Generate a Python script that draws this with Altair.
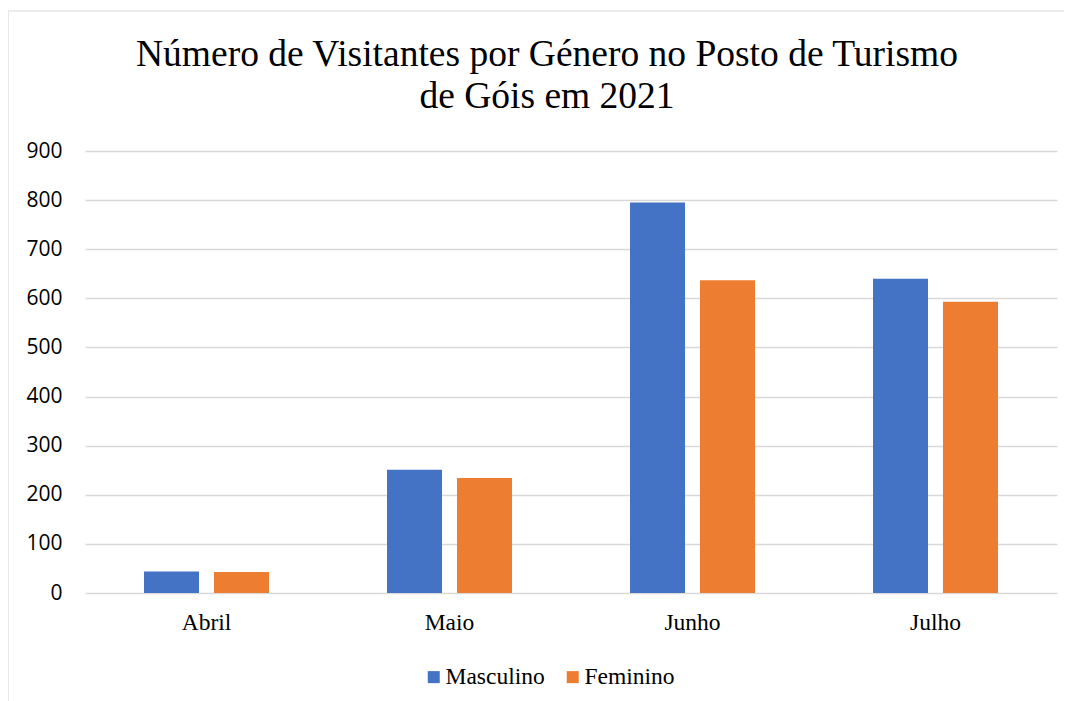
import altair as alt
import pandas as pd

months = ["Abril", "Maio", "Junho", "Julho"]
series = ["Masculino", "Feminino"]
masculino = [44, 251, 795, 640]
feminino = [43, 234, 637, 593]
colors = ["#4472C4", "#ED7D31"]

rows = []
for i, m in enumerate(months):
    rows.append({"Mês": m, "Género": series[0], "Visitantes": masculino[i]})
    rows.append({"Mês": m, "Género": series[1], "Visitantes": feminino[i]})
df = pd.DataFrame(rows)

one = pd.DataFrame({"k": [0]})
frame_left = alt.Chart(one).mark_rule(color="#D9D9D9", strokeWidth=1.2).encode(
    x=alt.value(-77), y=alt.value(-140), y2=alt.value(550))
frame_top = alt.Chart(one).mark_rule(color="#D9D9D9", strokeWidth=1.2).encode(
    x=alt.value(-77), x2=alt.value(979), y=alt.value(-140))

bars = alt.Chart(df).mark_bar().encode(
    x=alt.X("Mês:N", sort=months, title=None,
            scale=alt.Scale(paddingInner=0.4856, paddingOuter=0.2428),
            axis=alt.Axis(labelAngle=0, labelFont="Liberation Serif", labelFontSize=23.5,
                          labelColor="#000000", labelPadding=17, ticks=False, domain=False,
                          grid=False)),
    xOffset=alt.XOffset("Género:N", sort=series,
                        scale=alt.Scale(paddingInner=0.214, paddingOuter=0)),
    y=alt.Y("Visitantes:Q", title=None,
            scale=alt.Scale(domain=[0, 900], nice=False),
            axis=alt.Axis(values=list(range(0, 901, 100)), labelFont="Open Sans",
                          labelFontSize=21, labelColor="#000000", labelPadding=23,
                          ticks=False, domain=False, gridColor="#D9D9D9", gridWidth=1.5)),
    color=alt.Color("Género:N", sort=series,
                    scale=alt.Scale(domain=series, range=colors),
                    legend=alt.Legend(title=None, orient="none", direction="horizontal",
                                      legendX=337, legendY=514, symbolType="square",
                                      symbolSize=144, symbolStrokeWidth=0,
                                      labelFont="Liberation Serif", labelFontSize=23.5,
                                      labelColor="#000000", labelOffset=0,
                                      columnPadding=16, padding=0)),
)

chart = alt.layer(frame_left, frame_top, bars).properties(
    width=972,
    height=442,
    background="white",
    padding={"left": 77, "top": 143, "right": 7, "bottom": 108},
    autosize=alt.AutoSizeParams(type="none"),
    title=alt.TitleParams(
        text=["Número de Visitantes por Género no Posto de Turismo", "de Góis em 2021"],
        font="Liberation Serif", fontSize=37.5, fontWeight="normal", color="#000000",
        anchor="middle", dx=-24, offset=-105, lineHeight=42),
).configure_view(stroke=None, strokeWidth=0)

chart.save("out.html", embed_options={"renderer": "svg", "actions": False})
